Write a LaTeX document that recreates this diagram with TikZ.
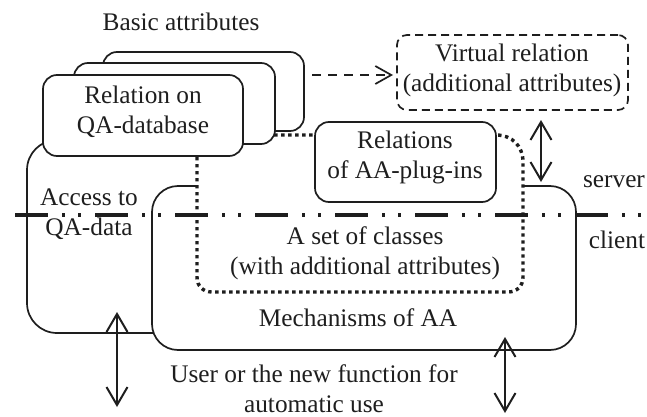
\documentclass[tikz,border=0pt]{standalone}
\usepackage{fontspec}
\setmainfont{Liberation Serif}
\usetikzlibrary{arrows.meta}
\definecolor{ink}{HTML}{1E1E1E}
\begin{document}
\begin{tikzpicture}[x=1pt,y=-1pt,
  txt/.style={font=\fontsize{25.3}{30}\selectfont, text=ink, align=center, inner sep=0pt},
  boxst/.style={draw=ink, line width=1.7pt, rounded corners=14pt, fill=white, inner sep=0pt},
  dotline/.style={draw=ink, line width=3.4pt, dash pattern=on 3.4pt off 3.6pt},
  dbl/.style={draw=ink, line width=2pt, {Straight Barb[length=18pt,width=21pt]}-{Straight Barb[length=18pt,width=21pt]}},
  sepline/.style={draw=ink, line width=3.6pt, dash pattern=on 33pt off 14pt on 3pt off 13pt on 3pt off 14pt}
]
\useasboundingbox (0,0) rectangle (647,417);

% client-side frames
\node[boxst, rounded corners=30pt, minimum width=193pt, minimum height=193pt] (accbox) at (123.5,236.5) {};
\node[boxst, rounded corners=26pt, minimum width=424pt, minimum height=164pt] (mechbox) at (364,268) {};

% dotted region: the set of classes
\path[dotline, fill=white]
  (197,150) -- (197,277) .. controls (197,286) and (203,292) .. (212,292)
  -- (508,292) .. controls (517,292) and (523,286) .. (523,277)
  -- (523,162) .. controls (523,146) and (512,135) .. (496,135)
  -- (212,135) .. controls (203,135) and (197,141) .. (197,150) -- cycle;

% stacked relations on the QA-database
\node[boxst, minimum width=201pt, minimum height=79pt] (rel3) at (203.5,91.5) {};
\node[boxst, minimum width=201pt, minimum height=81pt] (rel2) at (174.5,103.5) {};
\node[boxst, minimum width=200pt, minimum height=81pt] (rel1) at (143,115.5) {};

% relations of the plug-ins
\node[boxst, minimum width=181pt, minimum height=80pt] (plug) at (405.5,162) {};

% virtual relation
\node[boxst, rounded corners=10pt, dash pattern=on 8pt off 5pt, minimum width=231pt, minimum height=75pt] (virt) at (512.5,72.5) {};

% connectors
\coordinate (da) at (312,75);
\coordinate (db) at (393,75);
\draw[draw=ink, line width=1.7pt, dash pattern=on 9pt off 7pt, -{Straight Barb[length=16pt,width=18pt]}] (da) -- (db);

\coordinate (v1) at (541,120);
\coordinate (v2) at (541,182);
\draw[dbl] (v1) -- (v2);
\coordinate (l1) at (117,312);
\coordinate (l2) at (117,407);
\draw[dbl] (l1) -- (l2);
\coordinate (r1) at (505,337);
\coordinate (r2) at (505,413);
\draw[dbl] (r1) -- (r2);

% server / client border
\coordinate (sepL) at (15,215);
\coordinate (sepR) at (647,215);
\draw[sepline] (sepL) -- (sepR);

% labels
\node[txt] (basic) at (181,22) {Basic attributes};
\node[txt] (relqa) at (143,112) {Relation on\\QA-database};
\node[txt] (virtT) at (512,70) {Virtual relation\\(additional attributes)};
\node[txt] (plugT) at (405,157) {Relations\\of AA-plug-ins};
\node[txt] (accT) at (89,214) {Access to\\QA-data};
\node[txt] (server) at (614,182) {server};
\node[txt] (client) at (617,240) {client};
\node[txt] (classT) at (365,253) {A set of classes\\(with additional attributes)};
\node[txt] (mechT) at (358,318) {Mechanisms of AA};
\node[txt] (user) at (314,389) {User or the new function for\\automatic use};
\end{tikzpicture}
\end{document}
